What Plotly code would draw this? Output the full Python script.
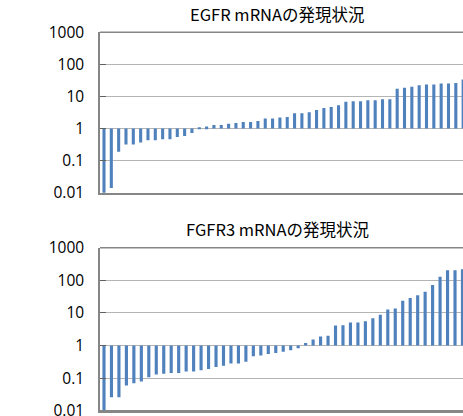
import plotly.graph_objects as go

egfr_title = "EGFR mRNAの発現状況"
fgfr3_title = "FGFR3 mRNAの発現状況"

egfr_values = [0.0095, 0.014, 0.19, 0.32, 0.32, 0.37, 0.43, 0.43, 0.46, 0.46,
               0.54, 0.59, 0.72, 1.1, 1.15, 1.3, 1.3, 1.4, 1.5, 1.6,
               1.6, 1.73, 2.05, 2.05, 2.2, 2.3, 3.0, 3.0, 3.2, 3.8,
               4.4, 4.7, 5.3, 6.8, 7.1, 7.1, 7.6, 7.6, 8.2, 8.2,
               17.3, 18.6, 20, 22.5, 23.6, 23.6, 25.3, 25.3, 26.5, 34]

fgfr3_values = [0.0095, 0.026, 0.026, 0.059, 0.069, 0.079, 0.107, 0.128, 0.137, 0.144,
                0.144, 0.16, 0.16, 0.174, 0.19, 0.22, 0.24, 0.28, 0.28, 0.32,
                0.47, 0.49, 0.55, 0.59, 0.64, 0.72, 0.83, 1.2, 1.53, 1.9,
                2.0, 4.1, 4.2, 5.1, 5.1, 5.5, 6.9, 8.8, 12.8, 13.7,
                23.7, 28.6, 34.5, 44.8, 71.8, 129, 203, 203, 218]

tick_values = [0.01, 0.1, 1, 10, 100, 1000]
tick_labels = ["0.01", "0.1", "1", "10", "100", "1000"]

BAR = "#4F81BD"
GRID = "#B4B4B4"
AXIS = "#868686"
H = 416

fig = go.Figure()

def add_panel(values, xa, ya):
    n = len(values)
    fig.add_trace(go.Bar(
        x=list(range(n)), y=[v - 1 for v in values], base=[1] * n,
        width=0.42, marker=dict(color=BAR, line=dict(width=0)),
        xaxis=xa, yaxis=ya, showlegend=False))

add_panel(egfr_values, "x", "y")
add_panel(fgfr3_values, "x2", "y2")

def pdom(top_px, bot_px):
    return [1 - bot_px / H, 1 - top_px / H]

yax = dict(type="log", range=[-2, 3], tickvals=tick_values, ticktext=tick_labels,
           showgrid=True, gridcolor=GRID, gridwidth=1,
           showline=True, linecolor=AXIS, linewidth=1.5,
           ticks="inside", ticklen=6, tickcolor="#606060",
           ticklabelstandoff=11, automargin=False, ticklabeloverflow="allow",
           tickfont=dict(family="Open Sans", size=15.5, color="#000000"),
           zeroline=False, fixedrange=True)

xax = dict(showticklabels=False, showgrid=False, zeroline=False,
           showline=True, linecolor=AXIS, linewidth=1.5, ticks="",
           mirror=False, automargin=False)

fig.update_layout(
    width=463, height=416,
    margin=dict(l=100, r=0, t=0, b=0, autoexpand=False),
    paper_bgcolor="white", plot_bgcolor="white",
    xaxis=dict(xax, domain=[0, 1], range=[-0.545, 48.98], anchor="y"),
    yaxis=dict(yax, domain=pdom(32.3, 192.7), anchor="x"),
    xaxis2=dict(xax, domain=[0, 1], range=[-0.535, 48.07], anchor="y2"),
    yaxis2=dict(yax, domain=pdom(247.7, 410.7), anchor="x2"),
    annotations=[
        dict(text=egfr_title, x=(277 - 100) / 363, y=1 - 14 / H,
             xref="paper", yref="paper", showarrow=False,
             xanchor="center", yanchor="middle",
             font=dict(family="Noto Sans CJK JP", size=16.5, color="#000000")),
        dict(text=fgfr3_title, x=(277 - 100) / 363, y=1 - 229 / H,
             xref="paper", yref="paper", showarrow=False,
             xanchor="center", yanchor="middle",
             font=dict(family="Noto Sans CJK JP", size=16.5, color="#000000")),
    ],
    shapes=[
        dict(type="line", xref="x domain", yref="y domain", x0=0, x1=1, y0=1, y1=1,
             line=dict(color=AXIS, width=1.5)),
        dict(type="line", xref="x2 domain", yref="y2 domain", x0=0, x1=1, y0=1, y1=1,
             line=dict(color=AXIS, width=1.5)),
        dict(type="line", xref="x2 domain", yref="y2 domain", x0=0, x1=1, y0=0, y1=0,
             line=dict(color=AXIS, width=1.5)),
    ],
)

fig.write_html("out.html")
